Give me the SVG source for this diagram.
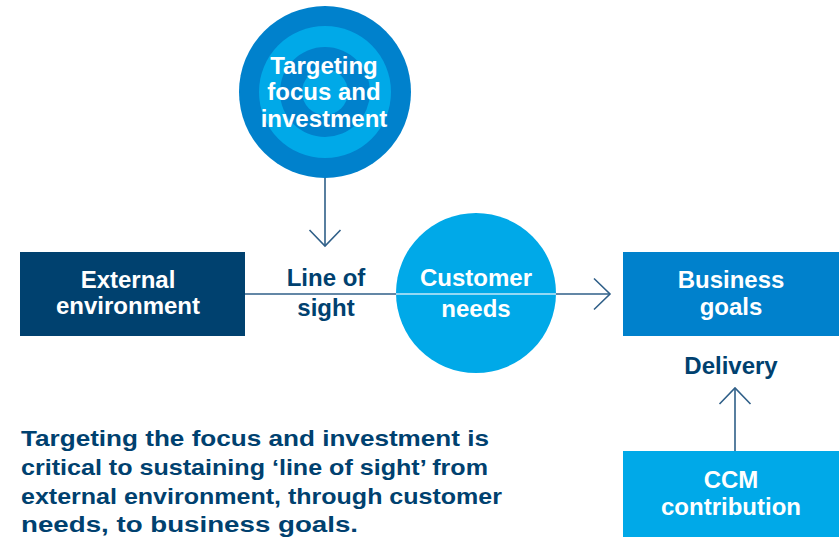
<svg xmlns="http://www.w3.org/2000/svg" width="839" height="537" viewBox="0 0 839 537">
<style>
.lbl{font-family:"Liberation Sans",Arial,sans-serif;font-weight:bold;font-size:24px;fill:#ffffff;text-anchor:middle}
.dark{font-family:"Liberation Sans",Arial,sans-serif;font-weight:bold;font-size:24px;fill:#00416f;text-anchor:middle}
.para{font-family:"Liberation Sans",Arial,sans-serif;font-weight:bold;font-size:21.5px;fill:#00416f}
.conn{fill:none;stroke:#2f5f88;stroke-width:1.6}
</style>
<defs>
<marker id="chev" markerUnits="userSpaceOnUse" markerWidth="40" markerHeight="40" viewBox="-20 -20 40 40" refX="0" refY="0" orient="auto" overflow="visible">
<path d="M-16,-15.5 L0,0 L-16,15.5" fill="none" stroke="#2f5f88" stroke-width="1.6"/>
</marker>
</defs>
<rect width="839" height="537" fill="#ffffff"/>

<g id="node-target">
<circle cx="325" cy="92" r="86" fill="#0081cc"/>
<circle cx="325" cy="92" r="66" fill="#00a9e8"/>
<circle cx="325" cy="92" r="45" fill="#0081cc"/>
<circle cx="325" cy="92" r="23" fill="#00a9e8"/>
<text class="lbl" x="324" y="74">Targeting</text>
<text class="lbl" x="324" y="100">focus and</text>
<text class="lbl" x="324" y="127">investment</text>
</g>

<g id="node-external">
<rect x="20" y="252" width="225" height="84" fill="#00416f"/>
<text class="lbl" x="128" y="288">External</text>
<text class="lbl" x="128" y="314">environment</text>
</g>

<g id="connectors">
<line class="conn" x1="245" y1="294" x2="610" y2="294" marker-end="url(#chev)"/>
<line class="conn" x1="325" y1="178" x2="325" y2="246" marker-end="url(#chev)"/>
<line class="conn" x1="735" y1="451" x2="735" y2="388" marker-end="url(#chev)"/>
</g>

<g id="node-customer">
<circle cx="476" cy="293" r="80" fill="#00a9e8"/>
<line x1="396" y1="294" x2="556" y2="294" stroke="#c4e9f8" stroke-width="1.6"/>
<text class="lbl" x="476" y="286">Customer</text>
<text class="lbl" x="476" y="317">needs</text>
</g>

<g id="label-line-of-sight">
<text class="dark" x="326" y="286">Line of</text>
<text class="dark" x="326" y="316">sight</text>
</g>

<g id="node-business">
<rect x="623" y="252" width="216" height="84" fill="#0081cc"/>
<text class="lbl" x="731" y="288">Business</text>
<text class="lbl" x="731" y="315">goals</text>
</g>

<g id="label-delivery">
<text class="dark" x="731" y="374">Delivery</text>
</g>

<g id="node-ccm">
<rect x="623" y="451" width="216" height="86" fill="#00a9e8"/>
<text class="lbl" x="731" y="488">CCM</text>
<text class="lbl" x="731" y="515">contribution</text>
</g>

<g id="caption">
<text class="para" x="21" y="446" textLength="468" lengthAdjust="spacingAndGlyphs">Targeting the focus and investment is</text>
<text class="para" x="21" y="475" textLength="467" lengthAdjust="spacingAndGlyphs">critical to sustaining ‘line of sight’ from</text>
<text class="para" x="21" y="504" textLength="481" lengthAdjust="spacingAndGlyphs">external environment, through customer</text>
<text class="para" x="21" y="532" textLength="337" lengthAdjust="spacingAndGlyphs">needs, to business goals.</text>
</g>
</svg>
